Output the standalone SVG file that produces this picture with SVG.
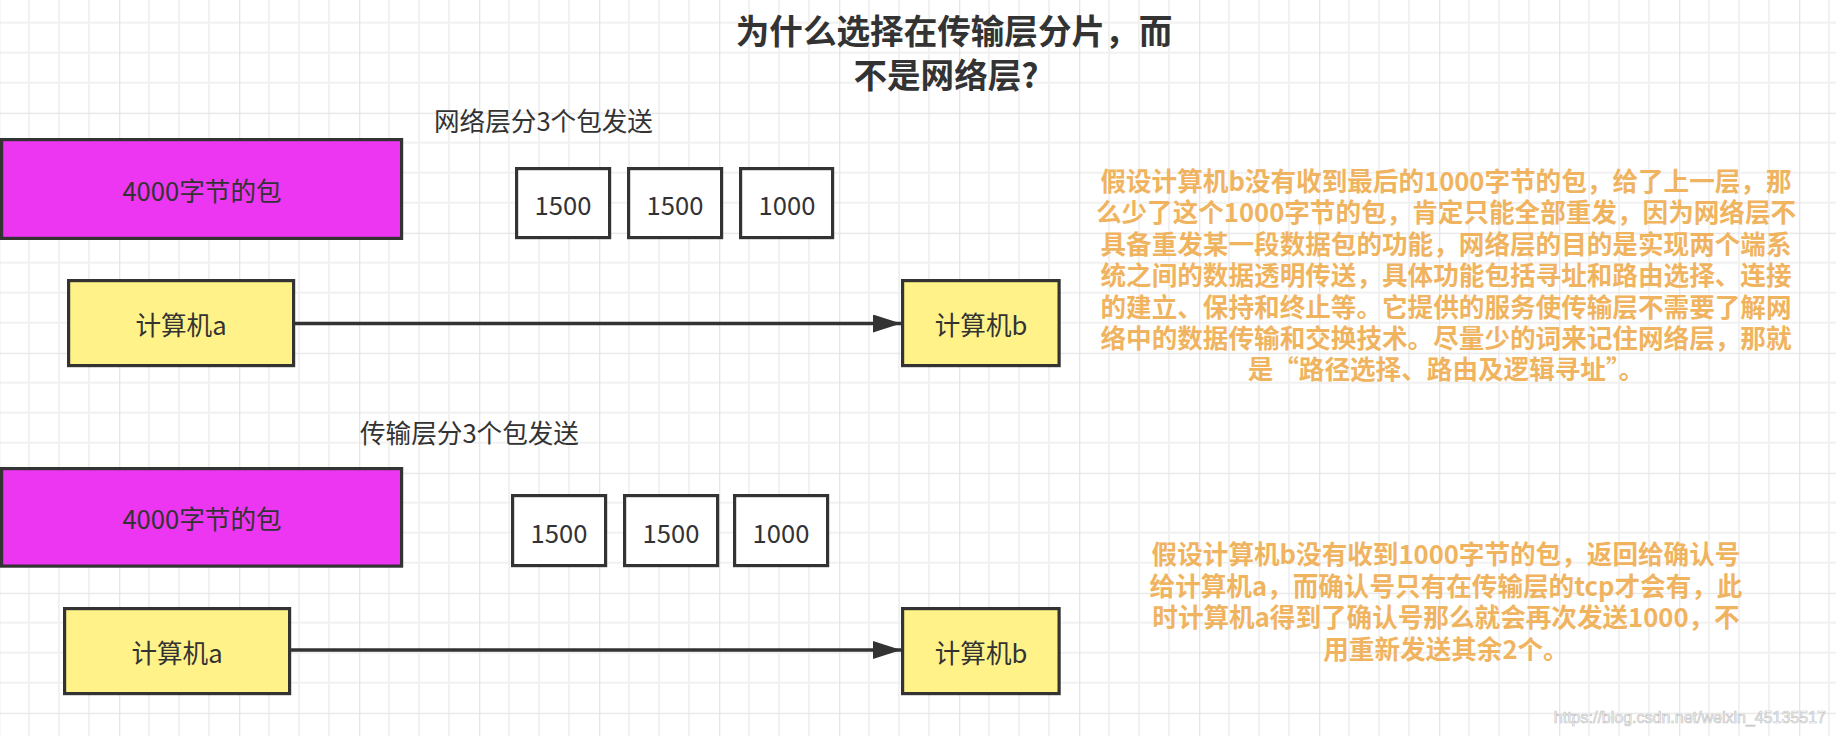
<svg xmlns="http://www.w3.org/2000/svg" width="1836" height="736" viewBox="0 0 1836 736">
<style>
.box{stroke:#333333;stroke-width:3.2}
.pkt{fill:#ec36f2}
.pc{fill:#fef289}
.frag{fill:#ffffff}
.lbl{font-family:"Noto Sans CJK SC","Liberation Sans",sans-serif;font-size:25.6px;fill:#333333;text-anchor:middle;dominant-baseline:central}
.cap{font-family:"Noto Sans CJK SC","Liberation Sans",sans-serif;font-size:25.6px;fill:#333333}
.title{font-family:"Noto Sans CJK SC","Liberation Sans",sans-serif;font-size:33.6px;font-weight:bold;fill:#333333;text-anchor:middle}
.note{font-family:"Noto Sans CJK SC","Liberation Sans",sans-serif;font-size:25.6px;font-weight:bold;fill:#f0b460;text-anchor:middle}
.edge{stroke:#333333;stroke-width:3.5;fill:none}
.wm{font-family:"Liberation Sans",Arial,sans-serif;font-size:16px;fill:#ffffff;stroke:#c4c4c4;stroke-width:0.7}
</style>
<defs>
<pattern id="grid" patternUnits="userSpaceOnUse" x="-1" y="-7.3" width="120" height="120">
<rect width="120" height="120" fill="#ffffff"/>
<path d="M30 0V120M60 0V120M90 0V120M0 30H120M0 60H120M0 90H120" stroke="#f1f1f1" stroke-width="2"/>
<path d="M0 0V120M0 0H120" stroke="#e6e6e6" stroke-width="2.6"/>
</pattern>
<marker id="arr" markerUnits="userSpaceOnUse" markerWidth="30" markerHeight="20" refX="28" refY="9" orient="auto">
<path d="M0 0L28 9L0 18Z" fill="#333333"/>
</marker>
</defs>
<rect width="1836" height="736" fill="url(#grid)"/>

<g id="title">
<text class="title" x="954" y="44">为什么选择在传输层分片，而</text>
<text class="title" x="946" y="88">不是网络层?</text>
</g>

<g id="label-net">
<text class="cap" x="434" y="131">网络层分3个包发送</text>
</g>
<g id="label-trans">
<text class="cap" x="360" y="443">传输层分3个包发送</text>
</g>

<g id="connectors">
<line class="edge" x1="295" y1="323.5" x2="901" y2="323.5" marker-end="url(#arr)"/>
<line class="edge" x1="291" y1="650" x2="901" y2="650" marker-end="url(#arr)"/>
</g>

<g id="top-packet">
<rect class="box pkt" x="1.6" y="139.6" width="400" height="98.8"/>
<text class="lbl" x="202" y="189">4000字节的包</text>
</g>
<g id="top-frag1">
<rect class="box frag" x="516.6" y="168.6" width="93" height="69"/>
<text class="lbl" x="563" y="203">1500</text>
</g>
<g id="top-frag2">
<rect class="box frag" x="628.6" y="168.6" width="93" height="69"/>
<text class="lbl" x="675" y="203">1500</text>
</g>
<g id="top-frag3">
<rect class="box frag" x="740.6" y="168.6" width="92" height="69"/>
<text class="lbl" x="787" y="203">1000</text>
</g>
<g id="top-pc-a">
<rect class="box pc" x="68.6" y="280.6" width="225" height="85"/>
<text class="lbl" x="181" y="323">计算机a</text>
</g>
<g id="top-pc-b">
<rect class="box pc" x="902.6" y="280.6" width="156.5" height="85"/>
<text class="lbl" x="981" y="323">计算机b</text>
</g>

<g id="bottom-packet">
<rect class="box pkt" x="1.6" y="468.6" width="400" height="97.5"/>
<text class="lbl" x="202" y="517">4000字节的包</text>
</g>
<g id="bottom-frag1">
<rect class="box frag" x="512.6" y="495.6" width="93" height="70"/>
<text class="lbl" x="559" y="531">1500</text>
</g>
<g id="bottom-frag2">
<rect class="box frag" x="624.6" y="495.6" width="93" height="70"/>
<text class="lbl" x="671" y="531">1500</text>
</g>
<g id="bottom-frag3">
<rect class="box frag" x="734.6" y="495.6" width="93" height="70"/>
<text class="lbl" x="781" y="531">1000</text>
</g>
<g id="bottom-pc-a">
<rect class="box pc" x="64.6" y="608.6" width="225" height="85"/>
<text class="lbl" x="177" y="651">计算机a</text>
</g>
<g id="bottom-pc-b">
<rect class="box pc" x="902.6" y="608.6" width="156.5" height="85"/>
<text class="lbl" x="981" y="651">计算机b</text>
</g>

<g id="note-net">
<text class="note" x="1446" y="191">假设计算机b没有收到最后的1000字节的包，给了上一层，那</text>
<text class="note" x="1446" y="222.4">么少了这个1000字节的包，肯定只能全部重发，因为网络层不</text>
<text class="note" x="1446" y="253.8">具备重发某一段数据包的功能，网络层的目的是实现两个端系</text>
<text class="note" x="1446" y="285.2">统之间的数据透明传送，具体功能包括寻址和路由选择、连接</text>
<text class="note" x="1446" y="316.6">的建立、保持和终止等。它提供的服务使传输层不需要了解网</text>
<text class="note" x="1446" y="348">络中的数据传输和交换技术。尽量少的词来记住网络层，那就</text>
<text class="note" x="1446" y="379.4">是“路径选择、路由及逻辑寻址”。</text>
</g>

<g id="note-trans">
<text class="note" x="1446" y="564">假设计算机b没有收到1000字节的包，返回给确认号</text>
<text class="note" x="1446" y="595.6">给计算机a，而确认号只有在传输层的tcp才会有，此</text>
<text class="note" x="1446" y="627.2">时计算机a得到了确认号那么就会再次发送1000，不</text>
<text class="note" x="1446" y="658.8">用重新发送其余2个。</text>
</g>

<g id="watermark">
<text class="wm" x="1826" y="723" text-anchor="end">https://blog.csdn.net/weixin_45135517</text>
</g>
</svg>
